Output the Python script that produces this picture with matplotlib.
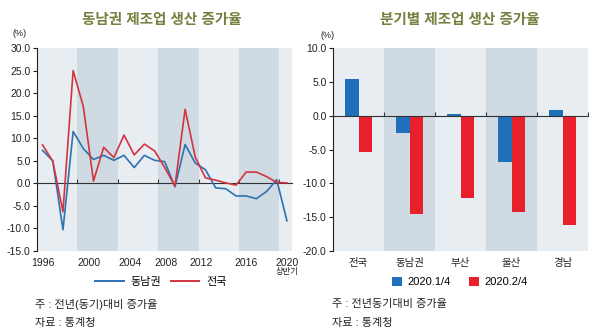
import matplotlib
matplotlib.use("Agg")
import matplotlib.pyplot as plt
import matplotlib.transforms as mtransforms
from matplotlib.patches import Patch
from matplotlib.lines import Line2D
import numpy as np

plt.rcParams['font.family'] = ['Liberation Sans', 'Noto Sans CJK KR', 'DejaVu Sans']
plt.rcParams['axes.unicode_minus'] = False

# ---------------- data ----------------
years = list(range(1996, 2021))
southeast = [7.3, 5.0, -10.3, 11.5, 7.7, 5.3, 6.2, 5.1, 6.2, 3.5, 6.2, 5.1, 4.8, -0.8,
             8.6, 4.5, 3.0, -1.0, -1.2, -2.8, -2.8, -3.4, -1.8, 0.8, -8.3]
national = [8.5, 4.9, -6.3, 25.0, 17.0, 0.5, 8.0, 5.7, 10.7, 6.3, 8.7, 7.2, 3.5, -0.6,
            16.4, 5.8, 1.2, 0.7, 0.1, -0.4, 2.5, 2.5, 1.5, 0.2, 0.1]
year_labels = ['1996', '2000', '2004', '2008', '2012', '2016', '2020']

regions = ['전국', '동남권', '부산', '울산', '경남']
q1_2020 = [5.4, -2.6, 0.2, -6.8, 0.8]
q2_2020 = [-5.3, -14.6, -12.1, -14.3, -16.1]

left_title = '동남권 제조업 생산 증가율'
right_title = '분기별 제조업 생산 증가율'

# ---------------- styles ----------------
BLUE_L = '#2e72b0'
RED_L = '#d23440'
BLUE_B = '#1f6fbb'
RED_B = '#e8202c'
LIGHT = '#e7edf1'
DARK = '#cfdae2'
TITLE_C = '#76803f'
TXT = '#222222'

W, H = 600, 336
fig = plt.figure(figsize=(6, 3.36), dpi=100)
fig.patch.set_facecolor('white')

def fx(px):
    return px / W

def fy(py):
    return 1 - py / H

ax1 = fig.add_axes([fx(37), fy(251), fx(292) - fx(37), fy(48) - fy(251)])
ax2 = fig.add_axes([fx(333), fy(251), fx(588) - fx(333), fy(48) - fy(251)])

for ax in (ax1, ax2):
    ax.set_facecolor(LIGHT)
    for s in ('top', 'right'):
        ax.spines[s].set_visible(False)
    ax.spines['left'].set_color('#222222')
    ax.spines['left'].set_linewidth(0.8)
    ax.spines['bottom'].set_position(('data', 0))
    ax.spines['bottom'].set_color('#333333')
    ax.spines['bottom'].set_linewidth(0.8)
    ax.tick_params(axis='y', direction='out', length=3, width=0.8, labelsize=7.5,
                   colors='#222222', pad=1.5)
    ax.tick_params(axis='x', direction='in', length=3, width=0.8, labelbottom=False,
                   colors='#333333')

# ---------------- left chart ----------------
ax1.set_xlim(1995.45, 2020.5)
ax1.set_ylim(-15, 30)
ax1.set_yticks(np.arange(-15, 30.1, 5))
ax1.set_yticklabels([f'{v:.1f}' for v in np.arange(-15, 30.1, 5)])
bounds = [1999.4, 2003.4, 2007.35, 2011.35, 2015.3, 2019.25]
for i in range(0, len(bounds), 2):
    right = bounds[i + 1] if i + 1 < len(bounds) else 2020.5
    ax1.axvspan(bounds[i], right, color=DARK, lw=0, zorder=0)
ax1.set_xticks(bounds)
ax1.plot(years, southeast, color=BLUE_L, lw=1.2, zorder=3)
ax1.plot(years, national, color=RED_L, lw=1.2, zorder=3)

trans1 = mtransforms.blended_transform_factory(ax1.transData, ax1.transAxes)
label_pos = [1996, 2000.6, 2004.6, 2008.1, 2011.6, 2016.0, 2020]
for xp, lab in zip(label_pos, year_labels):
    ax1.text(xp, -0.058, lab, transform=trans1, ha='center', va='center',
             fontsize=7.5, color=TXT)
ax1.text(2020, -0.105, '상반기', transform=trans1, ha='center', va='center',
         fontsize=6, color=TXT)

# ---------------- right chart ----------------
xr = np.arange(len(regions))
bw = 0.27
ax2.set_xlim(-0.5, len(regions) - 0.5)
ax2.set_ylim(-20, 10)
ax2.set_yticks(np.arange(-20, 10.1, 5))
ax2.set_yticklabels([f'{v:.1f}' for v in np.arange(-20, 10.1, 5)])
for i in range(1, len(regions), 2):
    ax2.axvspan(i - 0.5, i + 0.5, color=DARK, lw=0, zorder=0)
ax2.set_xticks(xr + 0.5)
ax2.bar(xr - bw / 2, q1_2020, width=bw, color=BLUE_B, zorder=2)
ax2.bar(xr + bw / 2, q2_2020, width=bw, color=RED_B, zorder=2)
trans2 = mtransforms.blended_transform_factory(ax2.transData, ax2.transAxes)
for xp, lab in zip(xr, regions):
    ax2.text(xp, -0.058, lab, transform=trans2, ha='center', va='center',
             fontsize=7.5, color=TXT)

# ---------------- titles / units ----------------
fig.text(fx(162), fy(20), left_title, ha='center', va='center', fontsize=10.5,
         color=TITLE_C, fontweight='bold')
fig.text(fx(460), fy(20), right_title, ha='center', va='center', fontsize=10.5,
         color=TITLE_C, fontweight='bold')
fig.text(fx(20), fy(34), '(%)', ha='center', va='center', fontsize=6.5, color=TXT)
fig.text(fx(328), fy(35), '(%)', ha='center', va='center', fontsize=6.5, color=TXT)

# ---------------- legends ----------------
h1 = [Line2D([], [], color=BLUE_L, lw=1.4), Line2D([], [], color=RED_L, lw=1.4)]
fig.legend(h1, ['동남권', '전국'], loc='center', bbox_to_anchor=(fx(161), fy(282)),
           ncol=2, frameon=False, fontsize=8, handlelength=2.6, handletextpad=0.6,
           columnspacing=0.8, borderaxespad=0)
h2 = [Patch(facecolor=BLUE_B, edgecolor='none'), Patch(facecolor=RED_B, edgecolor='none')]
fig.legend(h2, ['2020.1/4', '2020.2/4'], loc='center', bbox_to_anchor=(fx(460), fy(282)),
           ncol=2, frameon=False, fontsize=8, handlelength=0.9, handleheight=0.9,
           handletextpad=0.5, columnspacing=1.6, borderaxespad=0)

# ---------------- notes ----------------
fig.text(fx(35), fy(304), '주 : 전년(동기)대비 증가율', ha='left', va='center', fontsize=8, color=TXT)
fig.text(fx(35), fy(323), '자료 : 통계청', ha='left', va='center', fontsize=8, color=TXT)
fig.text(fx(332), fy(304), '주 : 전년동기대비 증가율', ha='left', va='center', fontsize=8, color=TXT)
fig.text(fx(332), fy(323), '자료 : 통계청', ha='left', va='center', fontsize=8, color=TXT)

fig.savefig('out.png', dpi=100, facecolor='white')
